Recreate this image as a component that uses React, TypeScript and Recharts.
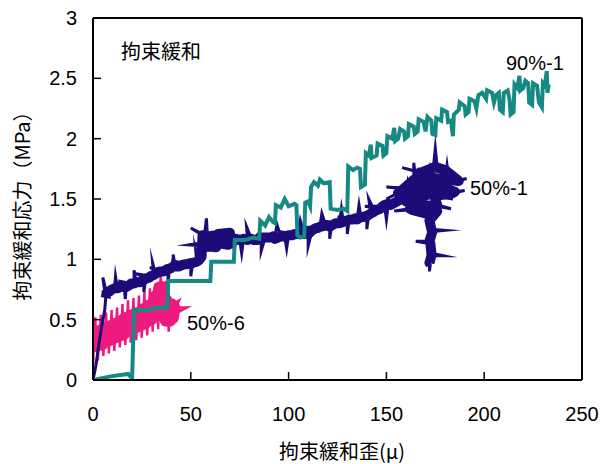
import { LineChart, Line, XAxis, YAxis, ReferenceLine } from "recharts"

// 90%-1  [strain, stress]
const teal: [number, number][] = [
  [0, 0], [9, 0.03], [18, 0.05], [20, 0.01], [21, 0.58], [28, 0.58], [33, 0.6], [38, 0.6], [38.5, 0.82], [50, 0.82],
  [60, 0.82], [60.5, 0.98], [66, 0.98], [72, 0.98], [72.5, 1.16], [78, 1.16], [82, 1.18], [85, 1.17], [85.5, 1.32], [88, 1.28],
  [90, 1.35], [92, 1.31], [93, 1.3], [93.5, 1.45], [96, 1.43], [98, 1.5], [100, 1.44], [103, 1.46], [104, 1.45], [104.5, 1.2],
  [106, 1.18], [108, 1.19], [108.5, 1.47], [110, 1.48], [111, 1.44], [111.5, 1.6], [113, 1.64], [115, 1.61], [116, 1.66], [118, 1.63],
  [121, 1.64], [121.5, 1.42], [125, 1.41], [128, 1.42], [130, 1.4], [130.5, 1.77], [133, 1.74], [135, 1.76], [136.5, 1.75], [137, 1.6],
  [139, 1.62], [139.5, 1.88], [141, 1.86], [142, 1.95], [142.5, 1.84], [145, 1.86], [145.5, 1.96], [148, 1.94], [148.5, 1.86], [150, 1.88],
  [150.5, 2.02], [153, 2.0], [154, 2.09], [154.5, 1.98], [156, 2.0], [157, 2.08], [159, 2.06], [159.5, 2.0], [161, 2.02], [161.5, 2.12],
  [164, 2.1], [164.5, 2.04], [166, 2.06], [166.5, 2.16], [169, 2.14], [170, 2.06], [171, 2.18], [173, 2.15], [173.5, 2.04], [175, 2.03],
  [175.5, 2.17], [178, 2.15], [178.5, 2.24], [181, 2.22], [181.5, 2.14], [183, 2.15], [184, 2.02], [184.5, 2.2], [187, 2.24], [187.5, 2.3],
  [190, 2.27], [190.5, 2.2], [192, 2.22], [192.5, 2.33], [195, 2.31], [196, 2.25], [197, 2.36], [199, 2.38], [201, 2.33], [201.5, 2.4],
  [204, 2.38], [205, 2.3], [206, 2.36], [207.5, 2.38], [208, 2.24], [209.5, 2.22], [210, 2.38], [212, 2.4], [213, 2.32], [213.5, 2.2],
  [215, 2.22], [215.5, 2.45], [217, 2.42], [218, 2.52], [218.5, 2.4], [220, 2.42], [221, 2.48], [222.5, 2.46], [223, 2.3], [224.5, 2.28],
  [225, 2.46], [227, 2.44], [228, 2.3], [229.5, 2.26], [230, 2.46], [231, 2.44], [232, 2.56], [232.3, 2.38], [233, 2.45],
]

// 50%-1  [strain, stress, glitch]  glitch = 1: spike reading, only on the thin trace
const navy: [number, number, number][] = [
  [0, 0, 1], [1.5, 0.12, 1], [3, 0.3, 1], [4.5, 0.45, 1], [6, 0.58, 1],
  [6.5, 0.68, 0], [5, 0.85, 1], [7, 0.72, 0], [9, 0.74, 0], [4.5, 0.73, 1], [9.5, 0.75, 0], [11, 0.76, 0], [11.5, 0.86, 1], [12.5, 0.76, 0],
  [14, 0.77, 0], [19, 0.79, 1], [14.5, 0.78, 0], [16, 0.77, 0], [16.5, 0.67, 1], [17, 0.77, 0], [19, 0.79, 0], [13, 0.82, 1], [19.5, 0.8, 0],
  [21, 0.8, 0], [21, 0.91, 1], [22, 0.81, 0], [24, 0.81, 0], [30, 0.84, 1], [24.5, 0.82, 0], [26, 0.83, 0], [26, 0.73, 1], [27, 0.84, 0],
  [29, 0.85, 0], [22, 0.88, 1], [29.5, 0.86, 0], [31, 0.87, 0], [30.5, 0.97, 1], [32, 0.88, 0], [34, 0.9, 0], [40, 0.91, 1], [34.5, 0.9, 0],
  [36, 0.9, 0], [29, 0.93, 1], [37, 0.91, 0], [38, 0.92, 0], [38.5, 0.81, 1], [39, 0.92, 0], [41, 0.94, 0], [41, 1.04, 1], [42, 0.94, 0],
  [44, 0.94, 0], [51, 0.96, 1], [45, 0.95, 0], [47, 0.96, 0], [40, 0.99, 1], [48, 0.96, 0], [50, 0.97, 0], [50, 0.86, 1], [51, 0.97, 0],
  [53, 0.98, 0], [52.5, 1.08, 1], [54, 0.99, 0],
  [55.5, 1.02, 0], [56, 1.2, 0], [50, 1.26, 1], [57, 1.2, 0], [58, 1.34, 1], [58.5, 1.19, 0], [63, 1.2, 0], [63, 1.1, 0], [57, 1.11, 0],
  [49, 1.12, 1], [56.5, 1.14, 0], [62, 1.14, 0], [69, 1.12, 0], [70, 1.22, 0], [64, 1.21, 0], [65.5, 1.15, 0], [71, 1.13, 0],
  [73, 1.17, 0], [75, 1.16, 0], [76, 1.05, 1], [77, 1.17, 0], [79, 1.16, 0], [78.5, 1.27, 1], [81, 1.17, 0], [88, 1.19, 1], [82, 1.16, 0],
  [84, 1.16, 0], [77, 1.19, 1], [85, 1.18, 0], [86, 1.18, 0], [86, 1.07, 1], [88, 1.18, 0], [91, 1.18, 0], [84, 1.21, 1], [92, 1.19, 0],
  [93, 1.17, 0], [94, 1.29, 1], [96, 1.19, 0], [103, 1.2, 1], [97, 1.19, 0], [98, 1.19, 0], [99, 1.09, 1], [100, 1.2, 0], [102, 1.2, 0],
  [95, 1.23, 1], [103, 1.21, 0], [105, 1.21, 0], [106, 1.32, 1], [108, 1.21, 0], [115, 1.24, 1], [109, 1.22, 0], [110, 1.21, 0],
  [110, 1.11, 1], [112, 1.24, 0], [114, 1.26, 0], [106, 1.27, 1], [115, 1.26, 0], [116, 1.27, 0], [117, 1.38, 1], [119, 1.28, 0],
  [126, 1.3, 1], [120, 1.28, 0], [121, 1.27, 0], [121, 1.17, 1], [122, 1.28, 0], [124, 1.3, 0], [117, 1.32, 1], [125, 1.3, 0],
  [126, 1.3, 0], [127, 1.42, 1], [128, 1.31, 0], [135, 1.33, 1], [129, 1.32, 0], [130, 1.32, 0], [130, 1.21, 1], [131, 1.33, 0],
  [133, 1.33, 0], [125, 1.35, 1], [134, 1.34, 0], [135, 1.33, 0], [136, 1.45, 1], [137, 1.35, 0], [145, 1.37, 1], [138, 1.35, 0],
  [140, 1.36, 0], [140, 1.25, 1], [141, 1.37, 0], [142, 1.38, 0], [141, 1.5, 1], [144, 1.4, 0], [147, 1.42, 0], [139, 1.44, 1],
  [148, 1.44, 0], [149, 1.45, 0], [150, 1.33, 1], [151, 1.46, 0], [152, 1.45, 0],
  [160, 1.52, 0], [161, 1.64, 1], [163, 1.53, 0], [168, 1.55, 0], [169, 1.43, 1], [170, 1.55, 0], [176, 1.52, 0], [184, 1.5, 1],
  [177, 1.53, 0], [184, 1.55, 0], [190, 1.57, 1], [185, 1.56, 0],
  [178, 1.6, 0], [170, 1.6, 0], [171, 1.72, 1], [168, 1.6, 0], [162, 1.58, 0], [150, 1.6, 1], [161, 1.59, 0], [156, 1.55, 0],
  [150, 1.5, 1], [157, 1.56, 0],
  [164, 1.66, 0], [164, 1.8, 1], [165, 1.66, 0], [172, 1.68, 0], [180, 1.66, 0], [181, 1.78, 1], [182, 1.66, 0], [186, 1.65, 0],
  [191, 1.67, 1], [187, 1.65, 0],
  [180, 1.74, 0], [176, 1.76, 0], [175, 1.92, 1], [174, 1.76, 0], [168, 1.72, 0], [158, 1.76, 1], [167, 1.72, 0], [170, 1.65, 0],
  [178, 1.63, 0], [182, 1.58, 0], [174, 1.57, 0], [166, 1.56, 0], [160, 1.48, 0],
  [174, 1.55, 0], [176, 1.45, 0], [183, 1.42, 1], [176, 1.44, 0], [168, 1.45, 0], [162, 1.42, 0], [154, 1.4, 1], [163, 1.41, 0],
  [170, 1.38, 0], [176, 1.4, 0], [172, 1.32, 0],
  [173, 1.25, 0], [180, 1.24, 1], [173.5, 1.23, 0], [172, 1.15, 0], [165, 1.15, 1], [172.5, 1.13, 0], [173, 1.05, 0], [179, 1.03, 1],
  [173, 1.03, 0], [172, 0.97, 0], [172, 0.9, 1], [172.5, 0.96, 0],
]

// 50%-6  [strain, stress, glitch]
const pink: [number, number, number][] = [
  [0, 0.02, 1], [0.3, 0.3, 0], [0.8, 0.38, 0], [1.2, 0.52, 1], [1.5, 0.29, 0], [2.1, 0.39, 0], [2.5, 0.16, 1], [2.8, 0.3, 0],
  [3.5, 0.4, 0], [4, 0.54, 1], [4.2, 0.3, 0], [4.9, 0.41, 0], [5.3, 0.2, 1], [5.6, 0.32, 0], [6.3, 0.42, 0], [6.7, 0.56, 1],
  [7, 0.33, 0], [7.7, 0.43, 0], [8.1, 0.22, 1], [8.4, 0.34, 0], [9.1, 0.44, 0], [9.5, 0.58, 1], [9.8, 0.35, 0], [10.5, 0.45, 0],
  [10.9, 0.24, 1], [11.2, 0.36, 0], [11.9, 0.46, 0], [12.3, 0.6, 1], [12.6, 0.37, 0], [13.3, 0.47, 0], [13.7, 0.27, 1], [14, 0.38, 0],
  [14.7, 0.48, 0], [15.1, 0.63, 1], [15.4, 0.39, 0], [16.1, 0.5, 0], [16.5, 0.29, 1], [16.8, 0.41, 0], [17.5, 0.51, 0], [17.9, 0.66, 1],
  [18.2, 0.42, 0], [18.9, 0.52, 0], [19.3, 0.31, 1], [19.6, 0.43, 0], [20.3, 0.53, 0], [20.7, 0.68, 1], [21, 0.44, 0], [21.7, 0.54, 0],
  [22.1, 0.33, 1], [22.4, 0.45, 0], [23.1, 0.55, 0], [23.5, 0.7, 1], [23.8, 0.46, 0], [24.5, 0.56, 0], [24.9, 0.35, 1], [25.2, 0.47, 0],
  [25.9, 0.58, 0], [26.3, 0.73, 1], [26.6, 0.48, 0], [27.3, 0.59, 0], [27.7, 0.37, 1], [28, 0.5, 0], [28.7, 0.61, 0], [29.1, 0.76, 1],
  [29.4, 0.51, 0], [30.1, 0.62, 0], [30.5, 0.4, 1], [30.8, 0.53, 0], [31.5, 0.65, 0], [31.9, 0.8, 1], [32.2, 0.54, 0], [32.9, 0.7, 0],
  [33.3, 0.42, 1], [33.6, 0.57, 0], [34.3, 0.76, 0], [34.7, 0.9, 1], [35, 0.6, 0], [35.5, 0.76, 0], [35.9, 0.45, 1], [36.2, 0.56, 0],
  [36.9, 0.66, 0], [37.3, 0.82, 1], [37.6, 0.5, 0], [38.3, 0.62, 0], [38.7, 0.4, 1], [39, 0.5, 0], [39.7, 0.62, 0], [44, 0.66, 1],
  [40.4, 0.52, 0], [41, 0.6, 0], [48, 0.6, 1], [41.8, 0.55, 0],
]

const xTicks = [0, 50, 100, 150, 200, 250]
const yTicks = [0, 0.5, 1, 1.5, 2, 2.5, 3]

type Pt = { x: number; y: number; glitch: boolean }
const toPoints = (rows: number[][]): Pt[] => rows.map(([x, y, g]) => ({ x, y, glitch: g === 1 }))

const tealData = toPoints(teal)
const navyData = toPoints(navy)
const pinkData = toPoints(pink)
const navyCore = navyData.filter((p) => !p.glitch)
const pinkCore = pinkData.filter((p) => !p.glitch)

const colors = { teal: "#178983", navy: "#1c0b78", pink: "#ee1a7e" }
const numFont = "'Liberation Sans', Arial, sans-serif"
const jpFont = "'Noto Sans CJK JP', sans-serif"

export default function App() {
  return (
    <div style={{ position: "absolute", left: 0, top: 0, background: "#fff" }}>
      <LineChart width={602} height={464} margin={{ top: 18, right: 20, bottom: 24, left: 33 }}>
        <XAxis
          type="number"
          dataKey="x"
          domain={[0, 250]}
          ticks={xTicks}
          allowDataOverflow
          axisLine={{ stroke: "#000", strokeWidth: 2 }}
          tickLine={{ stroke: "#000", strokeWidth: 1.5 }}
          tickSize={-8}
          tickMargin={35}
          height={60}
          tick={{ fill: "#000", fontSize: 20, fontFamily: numFont }}
        />
        <YAxis
          type="number"
          domain={[0, 3]}
          ticks={yTicks}
          allowDataOverflow
          axisLine={{ stroke: "#000", strokeWidth: 2 }}
          tickLine={{ stroke: "#000", strokeWidth: 1.5 }}
          tickSize={-8}
          tickMargin={24}
          width={60}
          tick={{ fill: "#000", fontSize: 20, fontFamily: numFont }}
        />
        <ReferenceLine x={250} stroke="#000" strokeWidth={2} />
        <ReferenceLine y={3} stroke="#000" strokeWidth={2} />
        {/* thick core + thin spiky trace for the noisy series */}
        <Line data={pinkCore} dataKey="y" stroke={colors.pink} strokeWidth={14} strokeLinejoin="round" dot={false} isAnimationActive={false} />
        <Line data={pinkData} dataKey="y" stroke={colors.pink} strokeWidth={2.5} strokeLinejoin="miter" strokeMiterlimit={10} dot={false} isAnimationActive={false} />
        <Line data={navyCore} dataKey="y" stroke={colors.navy} strokeWidth={10} strokeLinejoin="round" dot={false} isAnimationActive={false} />
        <Line data={navyData} dataKey="y" stroke={colors.navy} strokeWidth={3} strokeLinejoin="miter" strokeMiterlimit={11} dot={false} isAnimationActive={false} />
        <Line data={tealData} dataKey="y" stroke={colors.teal} strokeWidth={4} strokeLinejoin="miter" strokeMiterlimit={5} dot={false} isAnimationActive={false} />
        <text x={121} y={59} fontSize={20} fontFamily={jpFont} fill="#000">拘束緩和</text>
        <text x={506} y={70} fontSize={20} fontFamily={numFont} fill="#000">90%-1</text>
        <text x={470} y={195} fontSize={20} fontFamily={numFont} fill="#000">50%-1</text>
        <text x={187} y={330} fontSize={20} fontFamily={numFont} fill="#000">50%-6</text>
        <text x={342} y={459} fontSize={20} fontFamily={jpFont} fill="#000" textAnchor="middle">拘束緩和歪(μ)</text>
        <text
          x={30}
          y={201}
          fontSize={20}
          fontFamily={jpFont}
          fill="#000"
          textAnchor="middle"
          transform="rotate(-90 30 201)"
        >
          拘束緩和応力（MPa）
        </text>
      </LineChart>
    </div>
  )
}
